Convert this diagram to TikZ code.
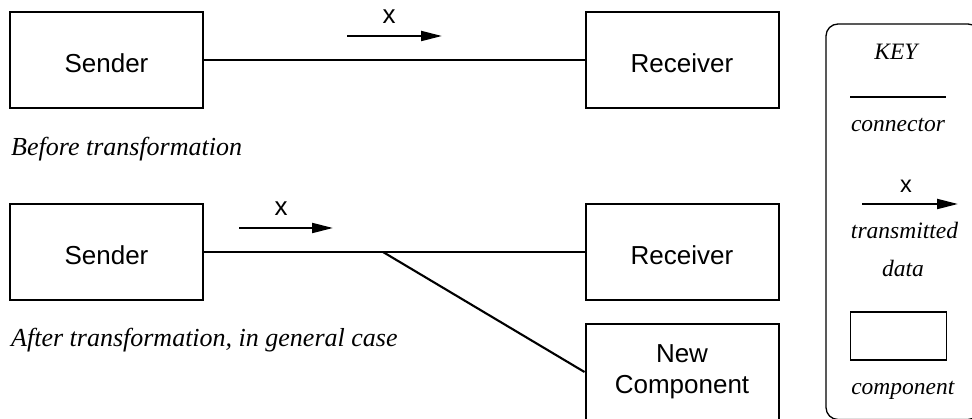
\documentclass[tikz,border=0pt]{standalone}
\usepackage{fontspec}
\setmainfont{Liberation Serif}
\newfontfamily\labelsans{Liberation Sans}
\usetikzlibrary{arrows.meta}
\begin{document}
\begin{tikzpicture}[x=1pt,y=-1pt,
  compbox/.style={draw, line width=2pt, minimum width=193pt, minimum height=96pt,
    inner sep=0pt, align=center, font=\labelsans\fontsize{26}{31}\selectfont},
  oneline/.style={text height=26pt, text depth=0pt},
  conn/.style={line width=2.1pt},
  dataflow/.style={line width=2.1pt, -{Triangle[length=21pt,width=10pt]}},
  datalabel/.style={font=\labelsans\fontsize{26}{31}\selectfont, anchor=base, inner sep=0pt},
  caption/.style={font=\itshape\fontsize{26}{31}\selectfont, anchor=base west, inner sep=0pt},
  keytext/.style={font=\itshape\fontsize{23.5}{28}\selectfont, anchor=base, inner sep=0pt},
  keyframe/.style={draw, line width=1.3pt, rounded corners=12pt, minimum width=154pt,
    minimum height=395.5pt, inner sep=0pt},
  keybox/.style={draw, line width=1.4pt, minimum width=96pt, minimum height=48pt, inner sep=0pt}]
\useasboundingbox (0,0) rectangle (972,419);

% before transformation
\node[compbox, oneline] (s1) at (106.5,60) {Sender};
\node[compbox, oneline] (r1) at (682,60) {Receiver};
\draw[conn] (s1) -- (r1);
\coordinate (d1a) at (347,36);
\coordinate (d1b) at (442,36);
\draw[dataflow] (d1a) -- (d1b);
\node[datalabel] (x1) at (389,24) {x};
\node[caption] (cap1) at (11,156) {Before transformation};

% after transformation
\node[compbox, oneline] (s2) at (106.5,252) {Sender};
\node[compbox, oneline] (r2) at (682,252) {Receiver};
\node[compbox] (nc) at (682,372) {New\\Component};
\coordinate (j) at (383,252);
\draw[conn] (s2) -- (r2);
\draw[conn] (j) -- (nc.west);
\coordinate (d2a) at (239,228);
\coordinate (d2b) at (333,228);
\draw[dataflow] (d2a) -- (d2b);
\node[datalabel] (x2) at (281,216) {x};
\node[caption] (cap2) at (11,347) {After transformation, in general case};

% key
\node[keyframe] (key) at (903,221.75) {};
\node[keytext] (keyt) at (896,60) {KEY};
\coordinate (kca) at (850,96.7);
\coordinate (kcb) at (946,96.7);
\draw[conn] (kca) -- (kcb);
\node[keytext] (kc) at (898,131.7) {connector};
\coordinate (kda) at (862,204);
\coordinate (kdb) at (958,204);
\draw[dataflow] (kda) -- (kdb);
\node[datalabel, font=\labelsans\fontsize{23.5}{28}\selectfont] (kx) at (906,193) {x};
\node[keytext] (kt) at (904.5,239) {transmitted};
\node[keytext] (kd) at (903,276.7) {data};
\node[keybox] (kb) at (898.3,336) {};
\node[keytext] (kcomp) at (902.8,395) {component};
\end{tikzpicture}
\end{document}
